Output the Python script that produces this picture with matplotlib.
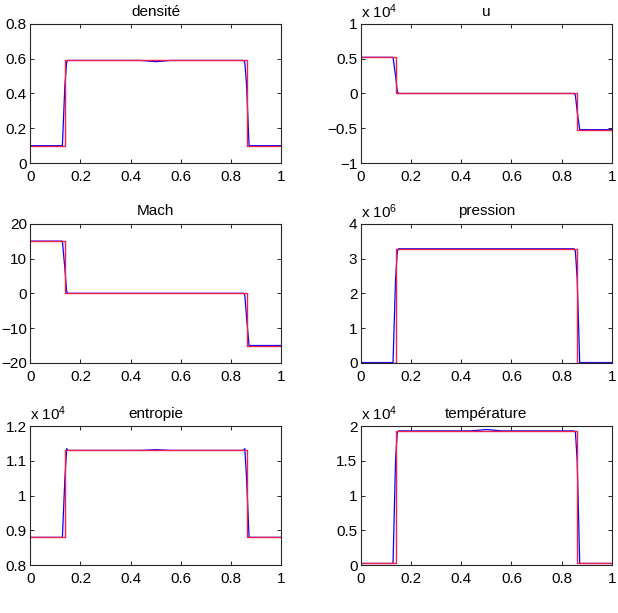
import matplotlib
matplotlib.use("Agg")
import matplotlib.pyplot as plt

plt.rcParams['font.family'] = ['Liberation Sans', 'DejaVu Sans']
plt.rcParams['mathtext.fontset'] = 'custom'
plt.rcParams['mathtext.rm'] = 'Liberation Sans'
plt.rcParams['mathtext.it'] = 'Liberation Sans:italic'
plt.rcParams['font.size'] = 11

# numerical solution (blue), sampled at a few nodes
x_num = [0, 0.128, 0.138, 0.145, 0.15, 0.44, 0.5, 0.56, 0.85, 0.855, 0.862, 0.872, 1]
dens_num = [0.1, 0.1, 0.45, 0.58, 0.59, 0.59, 0.583, 0.59, 0.59, 0.58, 0.45, 0.1, 0.1]
u_num = [5200, 5200, 2600, 300, 0, 0, 0, 0, 0, -300, -2600, -5200, -5200]
mach_num = [15, 15, 7, 0.5, 0, 0, 0, 0, 0, -0.5, -7, -15, -15]
pres_num = [0.01e6, 0.01e6, 2.4e6, 3.2e6, 3.28e6, 3.28e6, 3.28e6, 3.28e6, 3.28e6, 3.2e6, 2.4e6, 0.01e6, 0.01e6]
entr_num = [0.88e4, 0.88e4, 1.05e4, 1.135e4, 1.13e4, 1.13e4, 1.132e4, 1.13e4, 1.13e4, 1.135e4, 1.05e4, 0.88e4, 0.88e4]
temp_num = [0.025e4, 0.025e4, 1.5e4, 1.91e4, 1.93e4, 1.93e4, 1.95e4, 1.93e4, 1.93e4, 1.91e4, 1.5e4, 0.025e4, 0.025e4]

# exact solution (red)
x_ex = [0, 0.138, 0.138, 0.862, 0.862, 1]
dens_ex = [0.1, 0.1, 0.59, 0.59, 0.1, 0.1]
u_ex = [5200, 5200, 0, 0, -5200, -5200]
mach_ex = [15, 15, 0, 0, -15, -15]
pres_ex = [0.01e6, 0.01e6, 3.28e6, 3.28e6, 0.01e6, 0.01e6]
entr_ex = [0.88e4, 0.88e4, 1.13e4, 1.13e4, 0.88e4, 0.88e4]
temp_ex = [0.025e4, 0.025e4, 1.93e4, 1.93e4, 0.025e4, 0.025e4]

xticks = [0, 0.2, 0.4, 0.6, 0.8, 1]
xtick_labels = ['0', '0.2', '0.4', '0.6', '0.8', '1']

panels = [
    ('densité', dens_num, dens_ex, [0, 0.2, 0.4, 0.6, 0.8], ['0', '0.2', '0.4', '0.6', '0.8'], None),
    ('u', u_num, u_ex, [-1e4, -0.5e4, 0, 0.5e4, 1e4], ['\u22121', '\u22120.5', '0', '0.5', '1'], 4),
    ('Mach', mach_num, mach_ex, [-20, -10, 0, 10, 20], ['\u221220', '\u221210', '0', '10', '20'], None),
    ('pression', pres_num, pres_ex, [0, 1e6, 2e6, 3e6, 4e6], ['0', '1', '2', '3', '4'], 6),
    ('entropie', entr_num, entr_ex, [0.8e4, 0.9e4, 1e4, 1.1e4, 1.2e4], ['0.8', '0.9', '1', '1.1', '1.2'], 4),
    ('température', temp_num, temp_ex, [0, 0.5e4, 1e4, 1.5e4, 2e4], ['0', '0.5', '1', '1.5', '2'], 4),
]

fig = plt.figure(figsize=(6.18, 6.13), dpi=100)
lefts = [0.049, 0.584]
bottoms = [0.734, 0.408, 0.078]
w, h = 0.406, 0.227

for i, (title, ynum, yex, yt, ytl, expo) in enumerate(panels):
    ax = fig.add_axes([lefts[i % 2], bottoms[i // 2], w, h])
    ax.plot(x_num, ynum, color='#0000ff', lw=0.9)
    ax.plot(x_ex, yex, color='#f0204a', lw=1.0)
    ax.set_xlim(0, 1)
    ax.set_ylim(yt[0], yt[-1])
    ax.set_xticks(xticks)
    ax.set_xticklabels(xtick_labels)
    ax.set_yticks(yt)
    ax.set_yticklabels(ytl)
    ax.tick_params(direction='in', top=True, right=True, length=3, width=0.6)
    ax.tick_params(axis='y', pad=2.5)
    ax.tick_params(axis='x', pad=5)
    for s in ax.spines.values():
        s.set_linewidth(0.8)
        s.set_color('#262626')
    ax.set_title(title, fontsize=11, pad=6)
    if expo is not None:
        ax.text(0, 1.02, 'x 10$^{%d}$' % expo, transform=ax.transAxes, ha='left', va='bottom', fontsize=11)

fig.savefig('out.png', dpi=100)
